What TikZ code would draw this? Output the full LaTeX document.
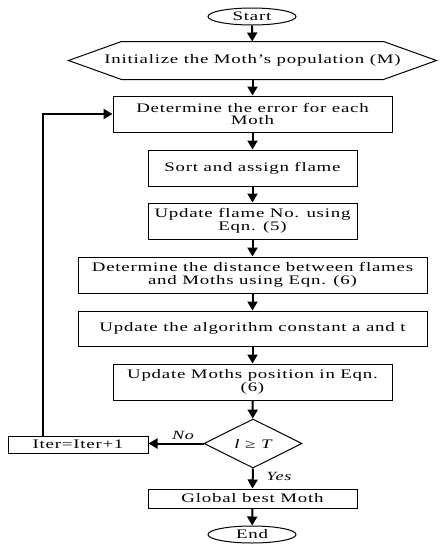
\documentclass[tikz,border=0pt]{standalone}
\usepackage{fontspec}
\setmainfont{Liberation Serif}[FakeStretch=1.45,LetterSpace=6]
\usetikzlibrary{shapes.geometric,arrows.meta}
\begin{document}
\begin{tikzpicture}[x=1pt,y=-1pt,
  box/.style={draw,line width=1pt,inner sep=1pt,align=center,font=\fontsize{13}{12.5}\selectfont},
  oval/.style={draw,ellipse,line width=1pt,inner sep=0pt,font=\fontsize{13}{12.5}\selectfont},
  flow/.style={line width=2pt,-{Triangle[length=9pt,width=10pt]}},
  lbl/.style={font=\fontsize{12.5}{12}\selectfont\itshape}]
\useasboundingbox (0,0) rectangle (440,550);
\node[oval,minimum width=88pt,minimum height=17pt] (start) at (252,16.5) {Start};
\node[box,draw=none,minimum width=367pt,minimum height=37pt] (init) at (252.5,60.5) {Initialize the Moth’s population (M)};
\draw[line width=1pt] (init.west) -- ([xshift=53pt]init.north west) -- ([xshift=-53pt]init.north east) -- (init.east) -- ([xshift=-53pt]init.south east) -- ([xshift=53pt]init.south west) -- cycle;
\node[box,minimum width=279pt,minimum height=36pt] (err) at (252.5,114) {Determine the error for each\\Moth};
\node[box,minimum width=209pt,minimum height=36pt] (sort) at (252.5,168) {Sort and assign flame};
\node[box,minimum width=209pt,minimum height=36pt] (upd) at (252.5,221) {Update flame No. using\\Eqn. (5)};
\node[box,minimum width=349pt,minimum height=36pt] (dist) at (252.5,275) {Determine the distance between flames\\and Moths using Eqn. (6)};
\node[box,minimum width=349pt,minimum height=35pt] (const) at (252.5,328.5) {Update the algorithm constant a and t};
\node[box,minimum width=279pt,minimum height=36pt] (pos) at (252.5,382) {Update Moths position in Eqn.\\(6)};
\node[box,diamond,minimum width=98pt,minimum height=49pt,inner sep=0pt] (dec) at (253,443.5) {\itshape l \upshape≥ \itshape T};
\node[box,minimum width=140pt,minimum height=17pt] (iter) at (78,444.5) {Iter=Iter+1};
\node[box,minimum width=209pt,minimum height=19pt] (best) at (252.5,498.5) {Global best Moth};
\node[oval,minimum width=88pt,minimum height=17pt] (end) at (252,534.5) {End};
\coordinate (lp) at (43,114);
\draw[flow] (start) -- (init);
\draw[flow] (init) -- (err);
\draw[flow] (err) -- (sort);
\draw[flow] (sort) -- (upd);
\draw[flow] (upd) -- (dist);
\draw[flow] (dist) -- (const);
\draw[flow] (const) -- (pos);
\draw[flow] (pos) -- (dec);
\draw[flow] (dec.south) -- (best.north);
\draw[flow] (best) -- (end);
\draw[flow] (dec.west) -- (iter.east |- dec.west);
\draw[flow] (iter.north -| lp) -- (lp) -- (err.west);
\node[lbl] (no) at (183,435) {No};
\node[lbl] (yes) at (279,476) {Yes};
\end{tikzpicture}
\end{document}
